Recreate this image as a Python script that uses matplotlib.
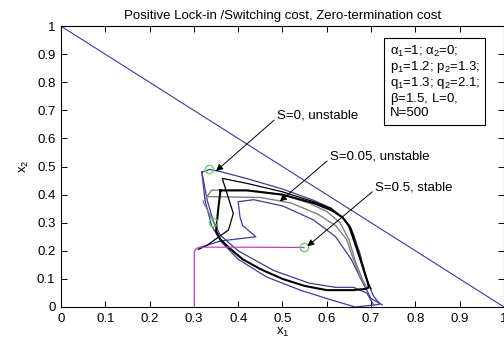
import numpy as np
import matplotlib.pyplot as plt

plt.rcParams['font.family'] = ['Liberation Sans', 'DejaVu Sans']
plt.rcParams['mathtext.fontset'] = 'custom'
plt.rcParams['mathtext.rm'] = 'Liberation Sans'
plt.rcParams['mathtext.it'] = 'Liberation Sans'

# boundary x1 + x2 = 1
edge_x = [0.0, 1.0]
edge_y = [1.0, 0.0]

# S=0 trajectory (outer, blue)
s0_x = [0.318, 0.335, 0.36, 0.42, 0.50, 0.57, 0.61, 0.64, 0.66, 0.675, 0.69, 0.705, 0.72,
        0.70, 0.664, 0.60, 0.54, 0.464, 0.40, 0.36, 0.34, 0.325, 0.318]
s0_y = [0.48, 0.49, 0.482, 0.457, 0.42, 0.38, 0.352, 0.31, 0.26, 0.19, 0.10, 0.04, 0.01,
        0.006, 0.0, 0.03, 0.06, 0.107, 0.17, 0.235, 0.29, 0.38, 0.48]

# S=0 left branch (blue)
s0b_x = [0.318, 0.33, 0.345, 0.36, 0.40, 0.48, 0.56, 0.62, 0.66, 0.69, 0.705]
s0b_y = [0.48, 0.38, 0.30, 0.255, 0.20, 0.13, 0.085, 0.07, 0.07, 0.05, 0.01]

# inner blue trajectory
inner_x = [0.31, 0.36, 0.44, 0.41, 0.404, 0.40, 0.435, 0.50, 0.57, 0.62, 0.655, 0.68, 0.70, 0.725]
inner_y = [0.21, 0.235, 0.25, 0.29, 0.321, 0.375, 0.382, 0.36, 0.31, 0.25, 0.17, 0.09, 0.03, 0.008]

# S=0.05 transient (black)
s05_x = [0.31, 0.33, 0.351, 0.378, 0.389, 0.364, 0.42, 0.50, 0.57, 0.61, 0.635, 0.655, 0.67,
         0.685, 0.695, 0.70]
s05_y = [0.205, 0.22, 0.244, 0.274, 0.333, 0.458, 0.44, 0.41, 0.375, 0.35, 0.32, 0.28, 0.20,
         0.12, 0.08, 0.065]

# limit cycle (black)
cyc_x = [0.36, 0.42, 0.50, 0.57, 0.61, 0.635, 0.65, 0.665, 0.68, 0.69, 0.695, 0.69, 0.66,
         0.60, 0.55, 0.50, 0.45, 0.41, 0.38, 0.36, 0.35, 0.355, 0.36]
cyc_y = [0.415, 0.415, 0.40, 0.37, 0.345, 0.32, 0.29, 0.22, 0.15, 0.10, 0.07, 0.065, 0.06,
         0.06, 0.075, 0.10, 0.135, 0.17, 0.21, 0.24, 0.27, 0.35, 0.415]

# gray trajectories
g1_x = [0.345, 0.321, 0.34, 0.42, 0.50, 0.56, 0.60, 0.63, 0.65, 0.665, 0.68, 0.69]
g1_y = [0.30, 0.375, 0.416, 0.416, 0.40, 0.37, 0.34, 0.30, 0.24, 0.16, 0.10, 0.07]
g2_x = [0.333, 0.45, 0.52, 0.58, 0.62, 0.645, 0.66, 0.675, 0.685]
g2_y = [0.393, 0.39, 0.37, 0.33, 0.29, 0.24, 0.17, 0.11, 0.08]

# S=0.5 trajectory (magenta)
s5_x = [0.301, 0.301, 0.305, 0.314, 0.40, 0.549]
s5_y = [0.0, 0.196, 0.208, 0.213, 0.213, 0.212]

# equilibria
eq_x = [0.334, 0.344, 0.549]
eq_y = [0.492, 0.302, 0.212]

labels = ['S=0, unstable', 'S=0.05, unstable', 'S=0.5, stable']
label_pos = [(0.487, 0.682), (0.607, 0.537), (0.709, 0.427)]
arrow_to = [(0.35, 0.484), (0.494, 0.376), (0.556, 0.216)]

tick_labels = ['0', '0.1', '0.2', '0.3', '0.4', '0.5', '0.6', '0.7', '0.8', '0.9', '1']

blue = '#3c3c9a'
fs = 9.5

fig = plt.figure(figsize=(5.04, 3.44), dpi=100)
ax = fig.add_axes([0.121, 0.1076, 0.879, 0.8164])

ax.plot(edge_x, edge_y, color=blue, lw=0.8)
ax.plot(s0_x, s0_y, color=blue, lw=0.9)
ax.plot(s0b_x, s0b_y, color=blue, lw=0.9)
ax.plot(inner_x, inner_y, color=blue, lw=0.9)
ax.plot(g1_x, g1_y, color='#808080', lw=1.0)
ax.plot(g2_x, g2_y, color='#808080', lw=1.0)
ax.plot(s05_x, s05_y, color='black', lw=0.9)
ax.plot(cyc_x, cyc_y, color='black', lw=1.5)
ax.plot(s5_x, s5_y, color='#c040c0', lw=0.9)
ax.plot(eq_x, eq_y, linestyle='none', marker='o', markersize=6, mfc='none',
        mec='#66cc66', mew=0.9)

for lab, (tx, ty), (px, py) in zip(labels, label_pos, arrow_to):
    ax.annotate(lab, xy=(px, py), xytext=(tx, ty), fontsize=fs, ha='left', va='center',
                arrowprops=dict(arrowstyle='-|>', color='black', lw=0.7,
                                mutation_scale=10, shrinkA=0, shrinkB=0,
                                relpos=(0, 0.3)))

ax.text(0.742, 0.935,
        r'$\alpha_1$=1; $\alpha_2$=0;' + '\n' + r'p$_1$=1.2; p$_2$=1.3;' + '\n'
        + r'q$_1$=1.3; q$_2$=2.1;' + '\n' + r'$\beta$=1.5, L=0,' + '\n' + 'N=500',
        fontsize=fs, va='top', ha='left', linespacing=1.0,
        bbox=dict(boxstyle='square,pad=0.4', fc='white', ec='black', lw=0.8))

ax.set_xlim(0, 1)
ax.set_ylim(0, 1)
ax.set_xticks(np.arange(0, 1.01, 0.1))
ax.set_yticks(np.arange(0, 1.01, 0.1))
ax.set_xticklabels(tick_labels)
ax.set_yticklabels(tick_labels)
ax.tick_params(direction='in', top=True, right=True, labelsize=fs, length=4, width=0.7, pad=4)
for s in ax.spines.values():
    s.set_linewidth(0.8)
ax.set_xlabel('x$_1$', fontsize=fs, labelpad=1)
ax.set_ylabel('x$_2$', fontsize=fs, labelpad=4)
ax.set_title('Positive Lock-in /Switching cost, Zero-termination cost', fontsize=fs, pad=5)

fig.savefig('out.png', dpi=100)
